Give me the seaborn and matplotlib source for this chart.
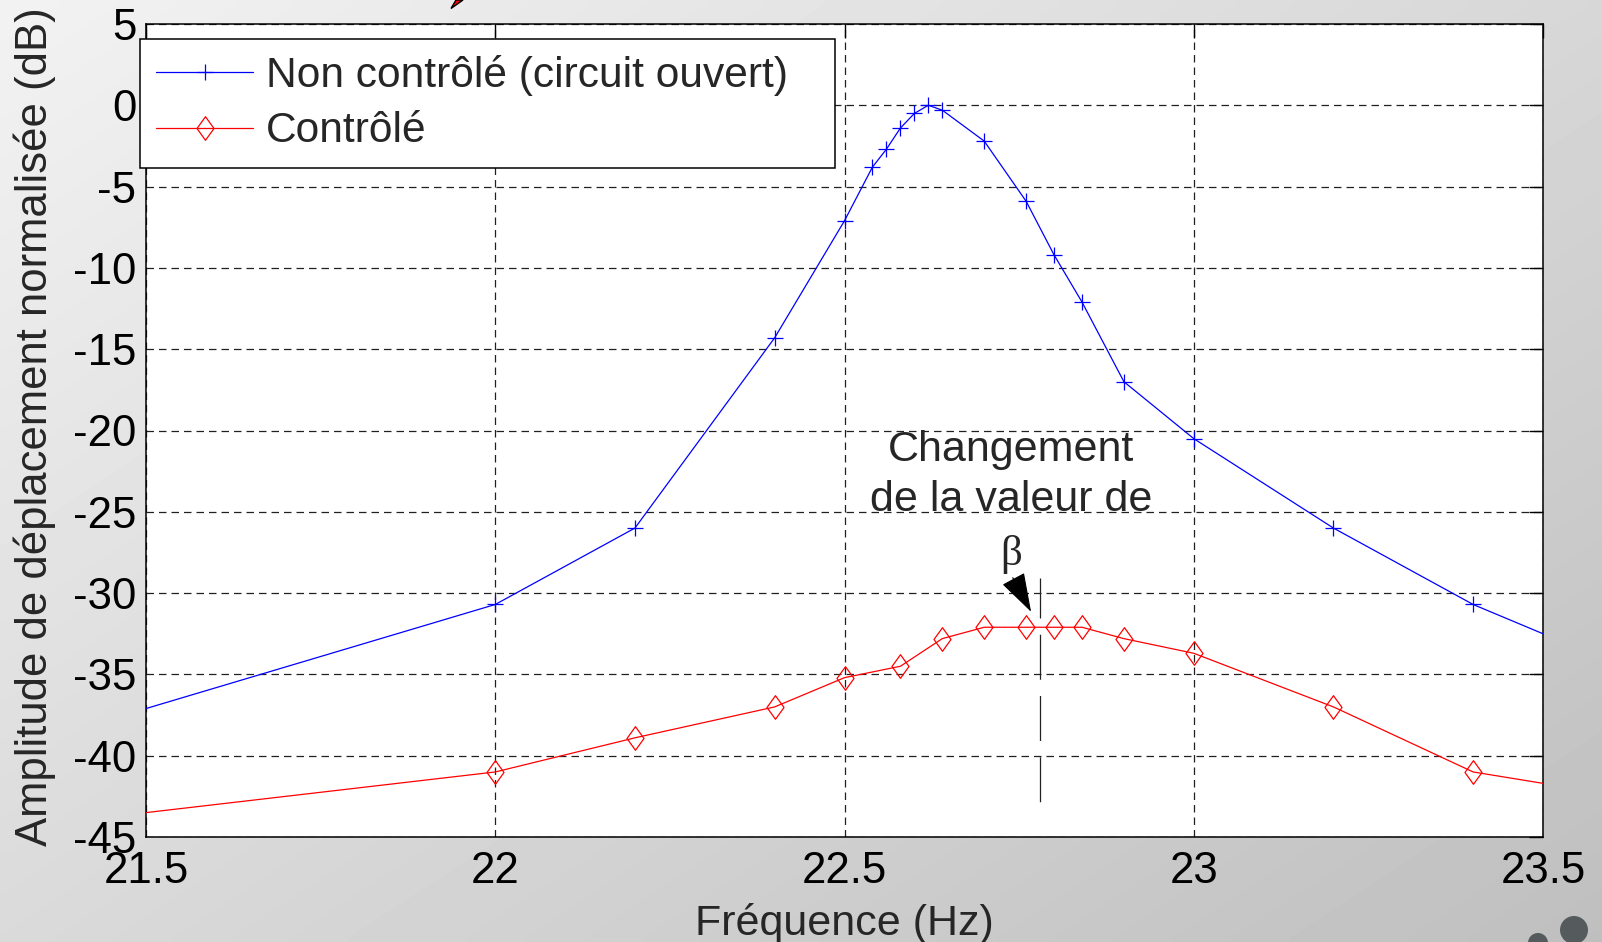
import numpy as np
import matplotlib
matplotlib.use("Agg")
import matplotlib.pyplot as plt
import seaborn as sns
from matplotlib.path import Path
from matplotlib.patches import FancyArrowPatch, Polygon, Ellipse

# --- data ---
freq_nc = [21.5, 22.0, 22.2, 22.4, 22.5, 22.54, 22.56, 22.58, 22.6, 22.62,
           22.64, 22.7, 22.76, 22.8, 22.84, 22.9, 23.0, 23.2, 23.4, 23.5]
amp_nc = [-37.1, -30.7, -26.0, -14.3, -7.1, -3.8, -2.7, -1.4, -0.5, 0.0,
          -0.3, -2.2, -5.9, -9.2, -12.1, -17.0, -20.5, -26.0, -30.7, -32.5]

freq_c = [21.5, 22.0, 22.2, 22.4, 22.5, 22.58, 22.64, 22.7, 22.76, 22.8,
          22.84, 22.9, 23.0, 23.2, 23.4, 23.5]
amp_c = [-43.5, -41.0, -38.9, -37.0, -35.2, -34.5, -32.8, -32.1, -32.1, -32.1,
         -32.1, -32.8, -33.7, -37.0, -41.0, -41.7]

x_ticks = [21.5, 22.0, 22.5, 23.0, 23.5]
x_ticklabels = ["21.5", "22", "22.5", "23", "23.5"]
y_ticks = [-45, -40, -35, -30, -25, -20, -15, -10, -5, 0, 5]
y_ticklabels = ["-45", "-40", "-35", "-30", "-25", "-20", "-15", "-10", "-5", "0", "5"]

labels = ["Non contrôlé (circuit ouvert)", "Contrôlé"]
beta_freq = 22.78
beta_range = [-29.1, -42.9]

sns.set_style("white")
plt.rcParams["font.family"] = ["Liberation Sans", "DejaVu Sans"]
plt.rcParams["axes.unicode_minus"] = False

W, H = 1602, 942
fig = plt.figure(figsize=(W / 100, H / 100), dpi=100)

# grey gradient background
bg = fig.add_axes([0, 0, 1, 1], zorder=-10)
gx, gy = np.meshgrid(np.linspace(0, 1, 200), np.linspace(0, 1, 120))
grad = 242 - 27 * gx - 24 * gy
bg.imshow(grad, cmap="gray", vmin=0, vmax=255, aspect="auto",
          extent=[0, 1, 1, 0], interpolation="bilinear")
bg.set_axis_off()

ax = fig.add_axes([146 / W, 1 - 837 / H, (1543 - 146) / W, (837 - 24) / H])
ax.set_facecolor("white")

diamond = Path([(0, 1), (0.72, 0), (0, -1), (-0.72, 0), (0, 1)],
               [Path.MOVETO, Path.LINETO, Path.LINETO, Path.LINETO, Path.CLOSEPOLY])

sns.lineplot(x=freq_nc, y=amp_nc, ax=ax, color="#0000ff", lw=0.9, marker="+",
             markersize=12, markeredgewidth=0.9, markeredgecolor="#0000ff",
             markevery=list(range(1, len(freq_nc) - 1)), label=labels[0], zorder=3)
sns.lineplot(x=freq_c, y=amp_c, ax=ax, color="#ff0000", lw=0.9, marker=diamond,
             markersize=17, markeredgewidth=0.9, markerfacecolor="none",
             markeredgecolor="#ff0000",
             markevery=list(range(1, len(freq_c) - 1)), label=labels[1], zorder=3)

ax.set_xlim(21.5, 23.5)
ax.set_ylim(-45, 5)
ax.set_xticks(x_ticks)
ax.set_xticklabels(x_ticklabels)
ax.set_yticks(y_ticks)
ax.set_yticklabels(y_ticklabels)
ax.set_xlabel("")
ax.set_ylabel("")
ax.tick_params(direction="in", length=10, width=1, top=True, right=True,
               labelsize=31.5, colors="black")
ax.tick_params(axis="x", pad=10)
ax.tick_params(axis="y", pad=7)
for s in ax.spines.values():
    s.set_color("black")
    s.set_linewidth(1.1)
ax.grid(True, color="#202020", lw=0.9, linestyle=(0, (6, 4)))
ax.set_axisbelow(True)

# beta change marker
ax.plot([beta_freq, beta_freq], beta_range, color="#222222", lw=0.9,
        linestyle=(4, (36, 13)), zorder=2)
ax.text(22.738, -22.75, "Changement\nde la valeur de", ha="center", va="center",
        fontsize=31, linespacing=1.33)
ax.text(22.738, -27.6, "β", ha="center", va="center", fontsize=31,
        family=["Liberation Serif", "DejaVu Serif"])
ax.add_patch(FancyArrowPatch((22.739, -28.9), (22.769, -31.3),
                             arrowstyle="-|>,head_length=1.4,head_width=0.45",
                             mutation_scale=18, color="black", lw=0.8, zorder=4))

leg = ax.legend(loc="upper left", bbox_to_anchor=(140 / W, 1 - 159 / H, 695 / W, 120 / H),
                bbox_transform=fig.transFigure, mode="expand", fontsize=30.6,
                frameon=True, fancybox=False, framealpha=1, edgecolor="black",
                borderaxespad=0, borderpad=0.38, labelspacing=0.36,
                handlelength=2.28, handletextpad=0.3)
leg.get_frame().set_linewidth(1.1)
leg.set_zorder(10)

fig.text(844 / W, 1 - 935 / H, "Fréquence (Hz)", ha="center", va="baseline",
         fontsize=31)
fig.text(35 / W, 1 - 427 / H, "Amplitude de déplacement normalisée (dB)",
         rotation=90, ha="center", va="center", fontsize=31.4)

# decorations from the slide
pts = [(451 / W, 1 - 8.5 / H), (456 / W, 1.0), (463 / W, 1.0)]
fig.patches.append(Polygon(pts, closed=True, facecolor="#ff0000", edgecolor="black",
                           lw=1, transform=fig.transFigure, figure=fig))
fig.patches.append(Ellipse((1574 / W, 1 - 930 / H), 28 / W, 28 / H,
                           facecolor="#555a5c", edgecolor="none",
                           transform=fig.transFigure, figure=fig))
fig.patches.append(Ellipse((1538 / W, 1 - 943 / H), 20 / W, 20 / H,
                           facecolor="#555a5c", edgecolor="none",
                           transform=fig.transFigure, figure=fig))

fig.savefig("out.png", dpi=100)
